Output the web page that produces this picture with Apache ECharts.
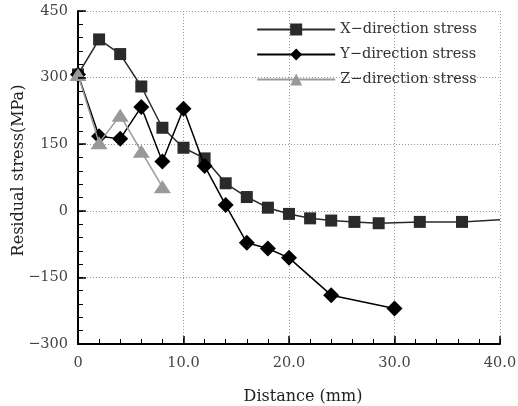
<!DOCTYPE html>
<html>
<head>
<meta charset="utf-8">
<script src="https://cdn.jsdelivr.net/npm/echarts@6/dist/echarts.min.js"></script>
<style>
  html, body { margin: 0; padding: 0; background: #fff; }
  #chart { width: 518px; height: 406px; }
</style>
</head>
<body>
<div id="chart"></div>
<script>
// Residual stress profiles along distance (mm, MPa)
const xDirDistance = [0, 2, 4, 6, 8, 10, 12, 14, 16, 18, 20, 22, 24, 26.2, 28.5, 32.4, 36.4, 40];
const xDirStress   = [307, 386, 353, 280, 187, 142, 118, 62, 31, 7, -7, -17, -22, -25, -28, -25, -25, -20];

const yDirDistance = [0, 2, 4, 6, 8, 10, 12, 14, 16, 18, 20, 24, 30];
const yDirStress   = [307, 168, 162, 234, 111, 230, 101, 13, -72, -85, -106, -190, -220];

const zDirDistance = [0, 2, 4, 6, 8];
const zDirStress   = [307, 153, 215, 134, 54];

const seriesNames = ['X\u2212direction stress', 'Y\u2212direction stress', 'Z\u2212direction stress'];

// axis ranges and tick steps
const xRange = [0, 40], xMajor = 10, xMinor = 2;
const yRange = [-300, 450], yMajor = 150, yMinor = 30;

const FONT = 'DejaVu Serif';

function pairs(xs, ys) {
  return xs.map((x, i) => [x, ys[i]]);
}

const xData = pairs(xDirDistance, xDirStress);
// the trace runs on to the axis end without a marker there
xData[xData.length - 1] = { value: xData[xData.length - 1], symbol: 'none' };

// plot box
const L = 78, R = 18, T = 11, B = 62, W = 518, H = 406;
const plotW = W - L - R, plotH = H - T - B;

// Tick-only axes: a top axis shifted down onto the bottom edge and a right
// axis shifted onto the left edge, so their outward ticks point into the plot.
function tickAxis(range, step, position, offset, len, width) {
  return {
    type: 'value', gridIndex: 0, position, offset,
    min: range[0], max: range[1], interval: step,
    axisLine: { show: true, onZero: false, lineStyle: { color: 'rgba(0,0,0,0)', width: 1 } },
    axisLabel: { show: false },
    splitLine: { show: false },
    axisTick: { show: true, inside: false, length: len, lineStyle: { color: '#000', width } },
    z: 6
  };
}

const chart = echarts.init(document.getElementById('chart'), null, { renderer: 'canvas' });

chart.setOption({
  animation: false,
  backgroundColor: '#fff',
  grid: { left: L, right: R, top: T, bottom: B, containLabel: false, outerBoundsMode: 'none' },
  legend: {
    right: 36,
    top: 17,
    orient: 'vertical',
    itemWidth: 78,
    itemHeight: 15,
    itemGap: 10,
    textStyle: { fontFamily: FONT, fontSize: 14.5, color: '#333' },
    data: seriesNames
  },
  xAxis: [
    {
      type: 'value',
      gridIndex: 0,
      position: 'bottom',
      min: xRange[0], max: xRange[1], interval: xMajor,
      name: 'Distance (mm)',
      nameLocation: 'middle',
      nameGap: 45,
      nameMoveOverlap: false,
      nameTextStyle: { fontFamily: FONT, fontSize: 16, color: '#222', padding: [0, 0, 0, 28] },
      axisLine: { show: true, onZero: false, lineStyle: { color: '#000', width: 2 } },
      axisTick: { show: false },
      axisLabel: {
        fontFamily: FONT, fontSize: 14.5, color: '#444', margin: 12,
        formatter: v => (v === 0 ? '0' : v.toFixed(1))
      },
      splitLine: { show: true, lineStyle: { color: '#999', type: [1, 2], width: 1 } },
      z: 2
    },
    tickAxis(xRange, xMajor, 'top', -plotH, 8, 1.5),
    tickAxis(xRange, xMinor, 'top', -plotH, 5, 1)
  ],
  yAxis: [
    {
      type: 'value',
      gridIndex: 0,
      position: 'left',
      min: yRange[0], max: yRange[1], interval: yMajor,
      name: 'Residual stress(MPa)',
      nameLocation: 'middle',
      nameGap: 51,
      nameMoveOverlap: false,
      nameTextStyle: { fontFamily: FONT, fontSize: 16, color: '#222', padding: [0, 0, 0, 14] },
      axisLine: { show: true, onZero: false, lineStyle: { color: '#000', width: 2 } },
      axisTick: { show: false },
      axisLabel: {
        fontFamily: FONT, fontSize: 14.5, color: '#444', margin: 10,
        formatter: v => String(v).replace('-', '\u2212')
      },
      splitLine: { show: true, lineStyle: { color: '#999', type: [1, 2], width: 1 } },
      z: 2
    },
    tickAxis(yRange, yMajor, 'right', -plotW, 8, 1.5),
    tickAxis(yRange, yMinor, 'right', -plotW, 5, 1)
  ],
  series: [
    {
      name: seriesNames[0],
      type: 'line',
      xAxisIndex: 0, yAxisIndex: 0,
      data: xData,
      symbol: 'rect',
      symbolSize: 12,
      itemStyle: { color: '#2a2a2a' },
      lineStyle: { color: '#2a2a2a', width: 1.5 },
      z: 3
    },
    {
      name: seriesNames[1],
      type: 'line',
      xAxisIndex: 0, yAxisIndex: 0,
      data: pairs(yDirDistance, yDirStress),
      symbol: 'diamond',
      symbolSize: 16,
      itemStyle: { color: '#000' },
      lineStyle: { color: '#000', width: 1.5 },
      z: 4
    },
    {
      name: seriesNames[2],
      type: 'line',
      xAxisIndex: 0, yAxisIndex: 0,
      data: pairs(zDirDistance, zDirStress),
      symbol: 'triangle',
      symbolSize: [17, 13],
      itemStyle: { color: '#999' },
      lineStyle: { color: '#999', width: 1.5 },
      z: 5
    }
  ]
});
</script>
</body>
</html>
